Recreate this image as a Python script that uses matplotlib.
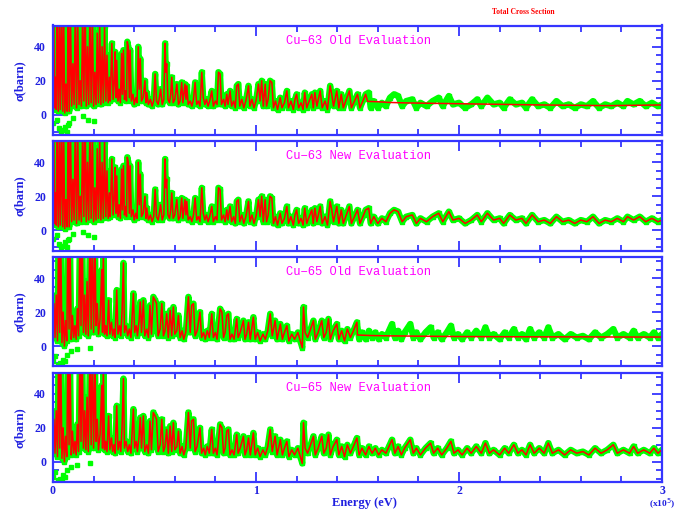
import matplotlib
matplotlib.use("Agg")
import matplotlib.pyplot as plt
from matplotlib.ticker import MultipleLocator

# energies in units of 1e5 eV, cross sections in barn
e63 = [0.000, 0.004, 0.008, 0.012, 0.016, 0.020, 0.026, 0.032, 0.036, 0.042, 0.048, 0.052, 0.058, 0.064,
       0.070, 0.075, 0.080, 0.086, 0.092, 0.098, 0.104, 0.110, 0.116, 0.122, 0.128, 0.134, 0.140, 0.146,
       0.152, 0.158, 0.164, 0.170, 0.176, 0.182, 0.188, 0.194, 0.200, 0.206, 0.212, 0.218, 0.224, 0.230,
       0.236, 0.242, 0.248, 0.254, 0.260, 0.266, 0.272, 0.278,
       0.282, 0.290, 0.296, 0.302, 0.306, 0.310, 0.314, 0.320, 0.326, 0.332, 0.338, 0.342, 0.347, 0.352,
       0.358, 0.362, 0.366, 0.371, 0.376, 0.380, 0.386, 0.394, 0.400, 0.408, 0.414, 0.420, 0.425, 0.430,
       0.436, 0.444, 0.453, 0.458, 0.462, 0.470, 0.480, 0.488, 0.496, 0.503, 0.510, 0.518, 0.524, 0.530,
       0.538, 0.546, 0.552, 0.556, 0.560, 0.566, 0.574, 0.580, 0.585, 0.592, 0.600, 0.610, 0.618, 0.626,
       0.634, 0.640, 0.650, 0.655, 0.659, 0.666, 0.676, 0.684, 0.692, 0.700, 0.708, 0.716, 0.724, 0.733,
       0.740, 0.748, 0.756, 0.764, 0.772, 0.782, 0.790, 0.800, 0.808, 0.815, 0.823, 0.830, 0.840, 0.848,
       0.856, 0.862, 0.872, 0.880, 0.890, 0.898, 0.905, 0.913, 0.920, 0.930, 0.940, 0.950, 0.963, 0.970,
       0.980, 0.990, 1.000, 1.012, 1.020, 1.028, 1.036, 1.045, 1.052, 1.060, 1.069, 1.078, 1.086, 1.096,
       1.106, 1.119, 1.128, 1.140, 1.152, 1.160, 1.172, 1.184, 1.192, 1.200, 1.210, 1.222, 1.232, 1.240,
       1.250, 1.262, 1.275, 1.282, 1.290, 1.300, 1.316, 1.326, 1.340, 1.352, 1.365, 1.373, 1.382, 1.398,
       1.408, 1.420, 1.430, 1.445, 1.460, 1.470, 1.485, 1.500, 1.512, 1.530, 1.540, 1.555, 1.565,
       1.58, 1.60, 1.62, 1.64, 1.66, 1.68, 1.70, 1.72, 1.74, 1.77, 1.79, 1.81, 1.84, 1.87, 1.90, 1.92,
       1.95, 1.97, 2.00, 2.03, 2.06, 2.09, 2.11, 2.14, 2.17, 2.20, 2.22, 2.25, 2.28, 2.31, 2.33, 2.36,
       2.39, 2.42, 2.45, 2.48, 2.51, 2.54, 2.57, 2.60, 2.63, 2.66, 2.69, 2.72, 2.75, 2.78, 2.81, 2.83,
       2.86, 2.89, 2.92, 2.95, 2.98, 3.00]
s63 = [6, 60, 4, 22, 3, 70, 2, 60, 3, 55, 2, 65, 1, 18, 2, 75, 2, 60, 5, 30, 6, 65, 4, 55, 6, 20, 5, 60,
       8, 70, 5, 40, 6, 62, 7, 58, 5, 25, 6, 48, 7, 55, 6, 40, 7, 52, 8, 35, 7, 22,
       8, 42, 9, 20, 37, 10, 32, 8, 15, 7, 36, 12, 38, 9, 14, 8, 43, 40, 10, 38, 8, 12, 6, 10, 7, 40, 15, 33,
       8, 10, 20, 7, 13, 6, 9, 5, 8, 24, 8, 6, 10, 15, 6, 9, 42, 25, 30, 9, 7, 12, 22, 7, 9, 18, 6, 8,
       19, 7, 18, 9, 17, 6, 8, 5, 9, 19, 6, 8, 5, 25, 10, 6, 9, 5, 8, 14, 5, 8, 6, 25, 24, 6, 9, 5,
       12, 6, 14, 5, 8, 4, 17, 18, 5, 9, 4, 8, 17, 5, 9, 4, 8, 18, 8, 20, 5, 18, 5, 9, 20, 19, 4, 8,
       3, 10, 4, 7, 14, 4, 8, 3, 9, 12, 4, 7, 3, 13, 4, 8, 12, 4, 13, 5, 14, 4, 8, 3, 17, 12, 5, 14,
       4, 12, 4, 9, 14, 4, 8, 12, 4, 9, 12, 13, 4,
       8, 4, 7, 5, 10, 12, 11, 5, 8, 9, 4, 7, 5, 8, 10, 5, 11, 6, 7, 4, 6, 9, 5, 10, 6, 7, 4, 9, 6,
       7, 4, 9, 5, 6, 4, 8, 5, 6, 4, 6, 5, 8, 4, 6, 5, 7, 5, 8, 6, 8, 5, 7, 5, 6]

e65 = [0.000, 0.005, 0.010, 0.016, 0.022, 0.028, 0.033, 0.038, 0.044, 0.050, 0.056, 0.062, 0.068, 0.074,
       0.079, 0.084, 0.090, 0.096, 0.102, 0.108, 0.114, 0.120, 0.126, 0.133, 0.138, 0.144, 0.150, 0.156,
       0.162, 0.168, 0.174, 0.182, 0.188, 0.194, 0.200, 0.207, 0.212, 0.218, 0.224, 0.232, 0.240, 0.244,
       0.248, 0.254, 0.260, 0.266, 0.274, 0.280, 0.288, 0.294, 0.300, 0.306, 0.314, 0.320, 0.328, 0.334,
       0.340, 0.347, 0.352, 0.360, 0.368, 0.376, 0.384, 0.396, 0.402, 0.410, 0.416, 0.424, 0.430, 0.436,
       0.445, 0.452, 0.462, 0.470, 0.478, 0.485, 0.494, 0.503, 0.510, 0.518, 0.528, 0.536, 0.544, 0.552,
       0.560, 0.568, 0.577, 0.585, 0.593, 0.600, 0.610, 0.618, 0.626, 0.636, 0.644, 0.654, 0.667, 0.676,
       0.683, 0.692, 0.700, 0.710, 0.724, 0.732, 0.742, 0.750, 0.760, 0.770, 0.782, 0.790, 0.800, 0.808,
       0.823, 0.832, 0.840, 0.848, 0.856, 0.864, 0.872, 0.882, 0.892, 0.905, 0.912, 0.922, 0.938, 0.946,
       0.954, 0.963, 0.972, 0.987, 0.996, 1.008, 1.020, 1.034, 1.046, 1.058, 1.070, 1.080, 1.094, 1.104,
       1.120, 1.130, 1.140, 1.152, 1.162, 1.176, 1.190, 1.206, 1.218, 1.228, 1.234, 1.242, 1.254, 1.266,
       1.283, 1.292, 1.306, 1.324, 1.334, 1.346, 1.357, 1.366, 1.380, 1.398, 1.408, 1.422, 1.436, 1.450,
       1.465, 1.480, 1.497, 1.508, 1.522, 1.540, 1.556, 1.572, 1.588, 1.604, 1.620, 1.640, 1.655, 1.670,
       1.684, 1.700, 1.716, 1.732, 1.760, 1.775, 1.790, 1.810, 1.835, 1.860, 1.875, 1.895, 1.915, 1.940,
       1.960, 1.975, 1.995, 2.015, 2.04, 2.06, 2.085, 2.11, 2.13, 2.15, 2.17, 2.20, 2.225, 2.245, 2.27,
       2.29, 2.31, 2.33, 2.35, 2.37, 2.395, 2.42, 2.44, 2.46, 2.49, 2.52, 2.55, 2.58, 2.61, 2.64, 2.67,
       2.70, 2.73, 2.76, 2.78, 2.81, 2.84, 2.86, 2.88, 2.91, 2.94, 2.96, 2.98, 3.00]
s65 = [10, 25, 5, 30, 3, 70, 8, 65, 2, 20, 0, 15, 3, 75, 10, 60, 4, 18, 5, 12, 4, 22, 6, 70, 12, 65, 8, 30,
       7, 38, 6, 65, 10, 70, 8, 60, 12, 25, 7, 16, 45, 8, 55, 7, 12, 6, 27, 7, 14, 6, 10, 5, 33, 7, 12, 6,
       20, 49, 8, 12, 6, 10, 5, 31, 8, 12, 6, 15, 26, 8, 27, 6, 10, 5, 24, 7, 29, 27, 25, 6, 10, 25, 6, 9,
       19, 5, 21, 6, 23, 7, 9, 18, 5, 9, 4, 8, 29, 8, 24, 25, 6, 9, 20, 5, 8, 4, 9, 5, 19, 5, 8, 4,
       22, 20, 5, 8, 18, 19, 4, 7, 4, 16, 5, 8, 15, 4, 7, 14, 4, 17, 4, 8, 3, 7, 4, 9, 19, 6, 15, 4,
       13, 4, 8, 12, 3, 7, 4, 8, 3, -1, 23, 8, 5, 9, 15, 4, 8, 15, 5, 8, 16, 4, 9, 13, 4, 9, 3, 10,
       5, 9, 14, 4, 8, 4, 9, 5, 8, 4, 7, 5, 9, 13, 5, 9, 4, 8, 13, 5, 8, 4, 8, 11, 5, 8, 4, 8,
       12, 5, 7, 4, 8, 5, 9, 5, 11, 5, 7, 4, 8, 5, 10, 5, 7, 4, 10, 5, 8, 5, 11, 5, 7, 4, 7, 5, 6, 4, 8,
       5, 7, 10, 5, 7, 5, 9, 5, 7, 5, 8, 5, 7]

# green points below zero at low energy
dip_e63 = [0.000, 0.02, 0.03, 0.04, 0.05, 0.06, 0.07, 0.075, 0.08, 0.10, 0.15, 0.17, 0.20]
dip_s63 = [-5, -3, -8, -10, -9, -7, -10, -6, -5, -2, -1, -3, -4]
dip_e65 = [0.000, 0.010, 0.026, 0.035, 0.045, 0.050, 0.060, 0.070, 0.090, 0.12, 0.18]
dip_s65 = [-9, -6, -11, -10, -11, -8, -9, -5, -3, -2, -1]

# smooth part of the old evaluations
old_cut63 = 1.55
tail_e63 = [1.55, 1.60, 1.65, 1.74, 1.90, 2.07, 2.25, 2.40, 2.55, 2.73, 2.85, 3.00]
tail_s63 = [7.8, 7.6, 7.2, 6.9, 6.6, 6.3, 6.0, 5.7, 5.5, 5.3, 5.5, 5.7]
old_cut65 = 1.50
tail_e65 = [1.50, 1.56, 1.65, 1.80, 2.00, 2.20, 2.40, 2.60, 2.80, 3.00]
tail_s65 = [6.5, 6.2, 6.0, 5.8, 5.6, 5.5, 5.4, 5.4, 5.3, 5.3]

titles = ['Cu\u221263 Old Evaluation', 'Cu\u221263 New Evaluation',
          'Cu\u221265 Old Evaluation', 'Cu\u221265 New Evaluation']

BLUE = '#3535ff'
TXT = '#2020e0'
GREEN = '#00ff00'


def old_curve(e, s, cut, te, ts):
    xs = [x for x in e if x < cut] + te
    ys = [y for x, y in zip(e, s) if x < cut] + ts
    return xs, ys


def style_axis(ax, bottom):
    ax.set_xlim(0, 3)
    ax.set_ylim(-12, 52.5)
    ax.xaxis.set_major_locator(MultipleLocator(1))
    ax.xaxis.set_minor_locator(MultipleLocator(0.2))
    ax.yaxis.set_major_locator(MultipleLocator(20))
    ax.yaxis.set_minor_locator(MultipleLocator(5))
    ax.tick_params(which='both', direction='in', top=True, right=True, color=BLUE, width=1.3)
    ax.tick_params(which='major', length=7)
    ax.tick_params(which='minor', length=4)
    ax.tick_params(axis='y', labelcolor=TXT, labelsize=8.5, pad=5)
    ax.tick_params(axis='x', labelcolor=TXT, labelsize=8.5, pad=2, labelbottom=bottom)
    for lab in ax.get_xticklabels() + ax.get_yticklabels():
        lab.set_fontweight('bold')
        lab.set_family('Liberation Serif')
    for sp in ax.spines.values():
        sp.set_color(BLUE)
        sp.set_linewidth(1.6)
    ax.set_ylabel('\u03c3(barn)', color=TXT, fontsize=9, fontweight='bold',
                  family='Liberation Serif', labelpad=6)


def main():
    fig = plt.figure(figsize=(6.79, 5.12), dpi=100)
    left = 53 / 679
    width = 609 / 679
    h = 109.5 / 512
    tops = [25.5, 141.1, 256.9, 372.6]

    green_sets = [(e63, s63, dip_e63, dip_s63), (e63, s63, dip_e63, dip_s63),
                  (e65, s65, dip_e65, dip_s65), (e65, s65, dip_e65, dip_s65)]
    red_sets = [old_curve(e63, s63, old_cut63, tail_e63, tail_s63), (e63, s63),
                old_curve(e65, s65, old_cut65, tail_e65, tail_s65), (e65, s65)]

    for i in range(4):
        ax = fig.add_axes([left, 1 - (tops[i] + 109.5) / 512, width, h])
        ge, gs, de, ds = green_sets[i]
        ax.plot(ge, gs, color=GREEN, lw=4.5, marker='s', ms=2.5, mec=GREEN,
                solid_joinstyle='round')
        ax.plot(de, ds, 's', color=GREEN, ms=3)
        re, rs = red_sets[i]
        ax.plot(re, rs, color='red', lw=1.1)
        style_axis(ax, i == 3)
        ax.text(0.502, 0.86, titles[i], transform=ax.transAxes, ha='center', va='center',
                color='#ff00ff', fontsize=8.7, family='Liberation Mono')

    fig.text(364 / 679, 1 - 503 / 512, 'Energy (eV)', color=TXT, fontsize=9,
             fontweight='bold', family='Liberation Serif', ha='center', va='center')
    fig.text(523 / 679, 1 - 12 / 512, 'Total Cross Section', color='red', fontsize=5.5,
             fontweight='bold', family='Liberation Serif', ha='center', va='center')
    fig.text(676 / 679, 1 - 497 / 512, '(x10$^5$)', color=TXT, fontsize=6.8,
             fontweight='bold', family='Liberation Serif', ha='right', va='top')

    fig.savefig('out.png', dpi=100)


if __name__ == "__main__":
    main()
